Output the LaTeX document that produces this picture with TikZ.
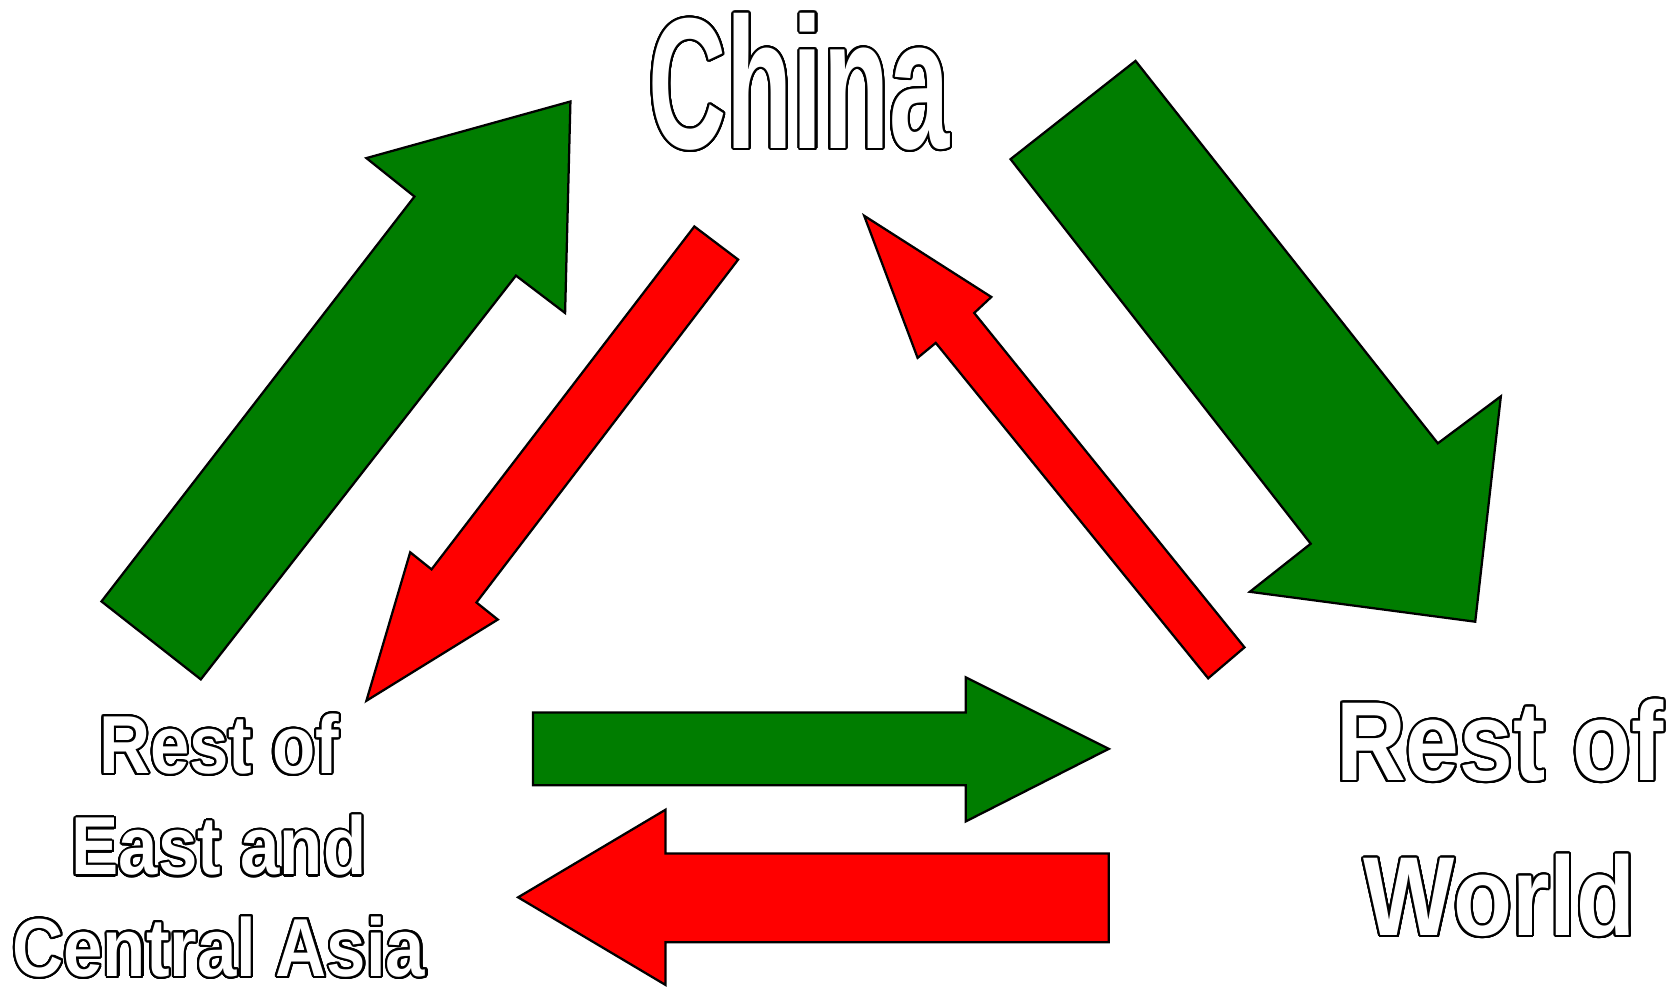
\documentclass[tikz,border=0pt]{standalone}
\usepackage{fontspec}
\usepackage[copies]{contour}
\usetikzlibrary{positioning}
\definecolor{flowgreen}{RGB}{0,125,0}
\newfontfamily\chinafont{Liberation Sans Bold}[FakeStretch=0.58]
\newfontfamily\regionfont{Liberation Sans Bold}[FakeStretch=0.86]
\contourlength{0.55pt}
\contournumber{32}
\newcommand{\outlined}[1]{\contour{black}{\textcolor{white}{#1}}}
\begin{document}
\begin{tikzpicture}[x=0.01cm, y=-0.01cm,
    greenarrow/.style={draw=black, fill=flowgreen, line width=0.6pt},
    redarrow/.style={draw=black, fill=red, line width=0.6pt},
    region/.style={align=center, inner sep=0pt, anchor=base}]
\useasboundingbox (0,0) rectangle (1568,924);

   % Regions
    \node[region, font=\chinafont\fontsize{49.7}{50}\selectfont] (China) at (748,139) {\outlined{China}};
    \node[region, font=\regionfont\fontsize{21.9}{27}\selectfont] (Asia) at (205,914) {\outlined{Rest of}\\\outlined{East and}\\\outlined{Central Asia}};
    \node[region, font=\regionfont\fontsize{29.9}{41.3}\selectfont] (World) at (1404,876) {\outlined{Rest of}\\\outlined{World}};

    % Flows
    \filldraw[greenarrow] (95,563) -- (388,184) -- (343,148) -- (534,95) -- (529,293) -- (483,258) -- (188,636) -- cycle;
    \filldraw[redarrow] (650,212) -- (691,243) -- (446,564) -- (466,580) -- (343,656) -- (384,517) -- (404,533) -- cycle;
    \filldraw[greenarrow] (946,149) -- (1063,57) -- (1346,415) -- (1405,371) -- (1381,582) -- (1170,554) -- (1227,509) -- cycle;
    \filldraw[redarrow] (809,202) -- (928,278) -- (912,293) -- (1165,606) -- (1131,635) -- (876,321) -- (859,335) -- cycle;
    \filldraw[greenarrow] (499,667) -- (904,667) -- (904,634) -- (1038,701) -- (904,769) -- (904,735) -- (499,735) -- cycle;
    \filldraw[redarrow] (1038,799) -- (623,799) -- (623,758) -- (485,840) -- (623,922) -- (623,882) -- (1038,882) -- cycle;
\end{tikzpicture}
\end{document}
